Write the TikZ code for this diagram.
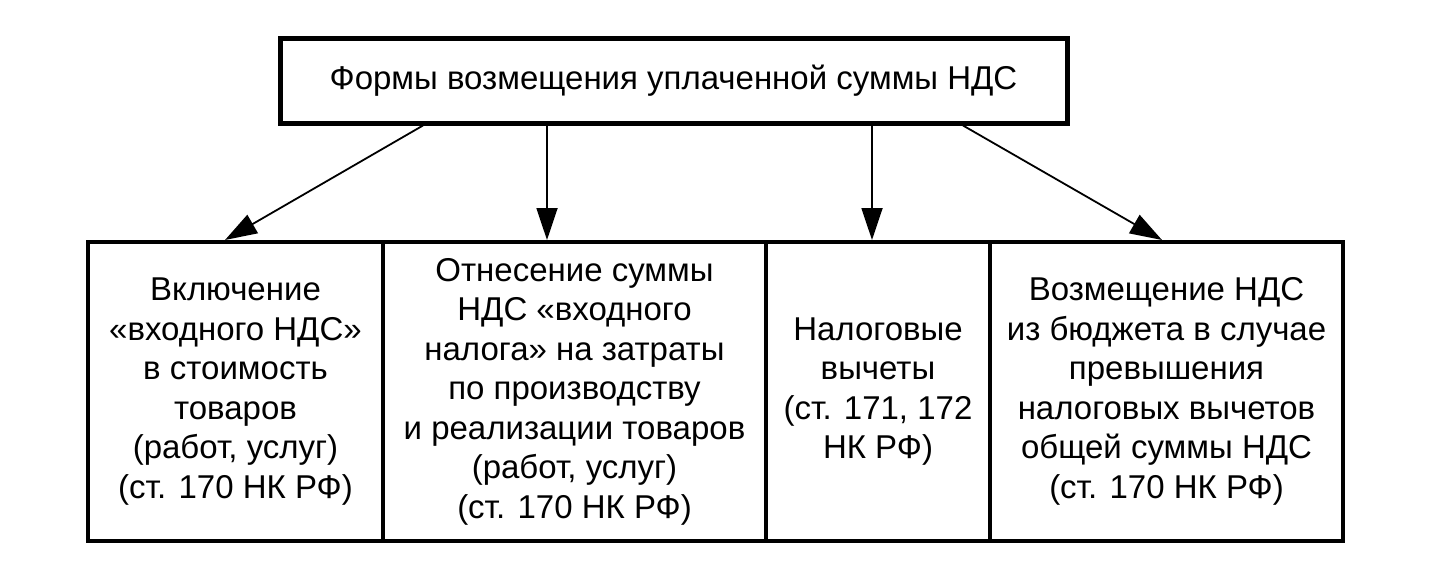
\documentclass[tikz,border=0pt]{standalone}
\usepackage{fontspec}
\setmainfont{Liberation Sans}
\usetikzlibrary{arrows.meta}
\begin{document}
\begin{tikzpicture}[x=1pt,y=-1pt,
  txt/.style={font=\fontsize{33}{39.5}\selectfont, align=center, inner sep=0pt},
  topbox/.style={draw, line width=5pt, txt, minimum width=787pt, minimum height=85pt},
  lowbox/.style={draw, line width=4pt, txt, minimum height=299pt},
  arr/.style={line width=1.8pt, -{Triangle[length=32pt,width=21pt]}}]
\useasboundingbox (0,0) rectangle (1437,581);
\node[topbox] (top) at (673.5,80.5) {Формы возмещения уплаченной суммы НДС};
\node[lowbox, minimum width=295pt] (b1) at (235.5,391.5)
  {Включение\\«входного НДС»\\в стоимость\\товаров\\(работ, услуг)\\(ст. 170 НК РФ)};
\node[lowbox, minimum width=383pt] (b2) at (574.5,391.5)
  {Отнесение суммы\\НДС «входного\\налога» на затраты\\по производству\\и реализации товаров\\(работ, услуг)\\(ст. 170 НК РФ)};
\node[lowbox, minimum width=224pt] (b3) at (878,391.5)
  {Налоговые\\вычеты\\(ст. 171, 172\\НК РФ)};
\node[lowbox, minimum width=353pt] (b4) at (1166.5,391.5)
  {Возмещение НДС\\из бюджета в случае\\превышения\\налоговых вычетов\\общей суммы НДС\\(ст. 170 НК РФ)};
\draw[arr] ([xshift=-250.5pt]top.south) -- ([xshift=-10.5pt]b1.north);
\draw[arr] ([xshift=-126.5pt]top.south) -- ([xshift=-27.5pt]b2.north);
\draw[arr] ([xshift=198.5pt]top.south) -- ([xshift=-6pt]b3.north);
\draw[arr] ([xshift=289.5pt]top.south) -- ([xshift=-4.5pt]b4.north);
\end{tikzpicture}
\end{document}
